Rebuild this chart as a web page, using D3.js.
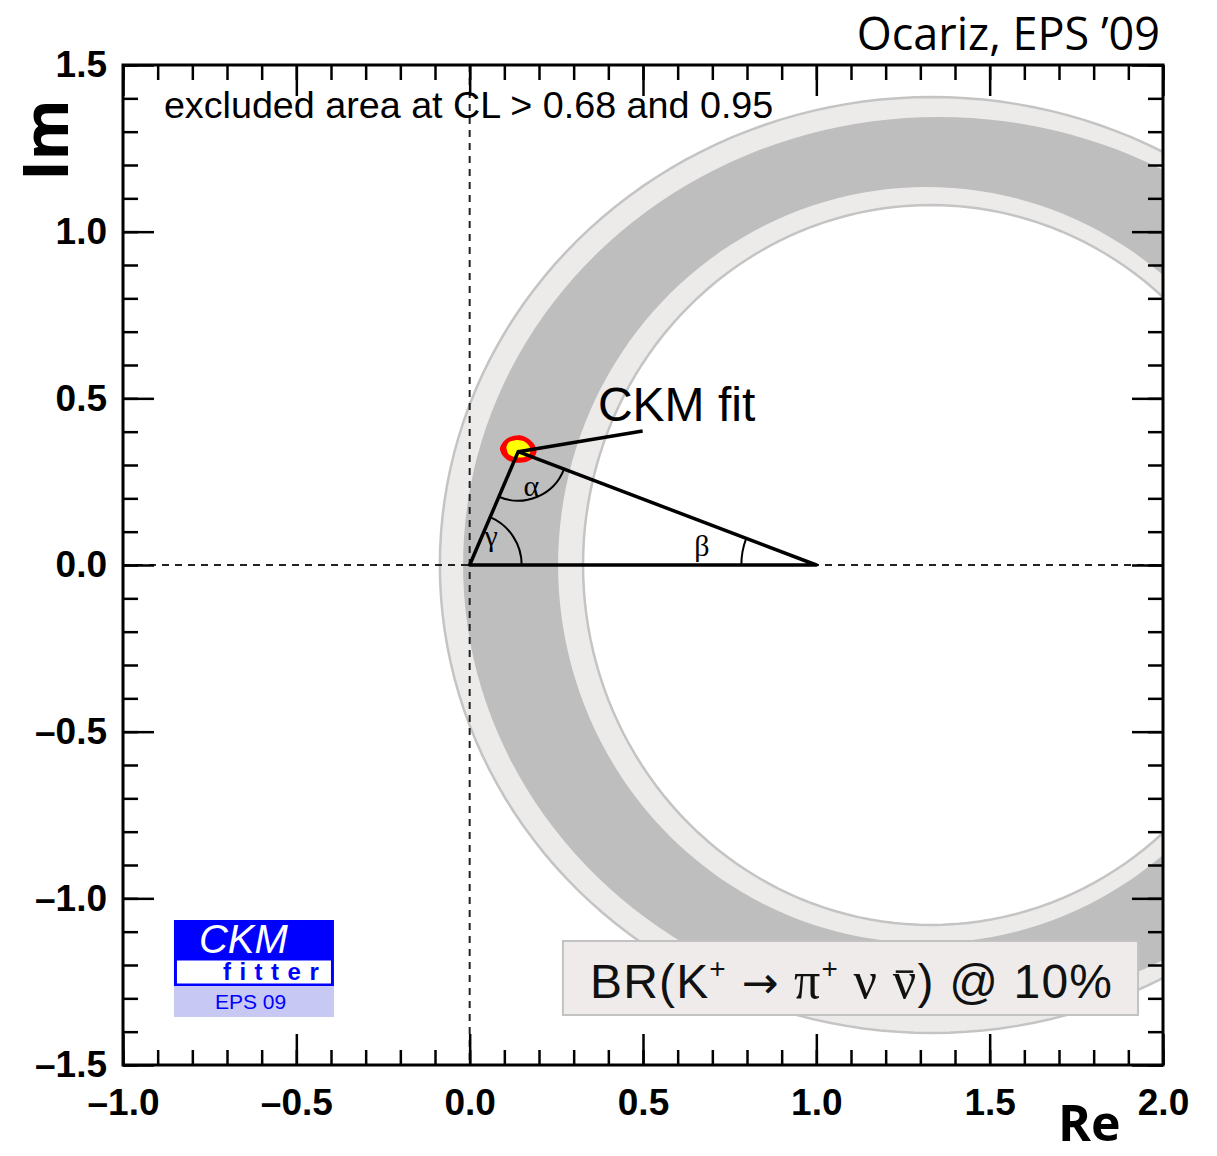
<!DOCTYPE html>
<html>
<head>
<meta charset="utf-8">
<script src="https://cdn.jsdelivr.net/npm/d3@7"></script>
<style>
  body { margin: 0; background: #fff; }
  svg { display: block; }
</style>
</head>
<body>
<svg id="chart" width="1217" height="1156"></svg>
<script>
// axis ticks and labels
const xMajor = [-1.0, -0.5, 0.0, 0.5, 1.0, 1.5, 2.0];
const xLabels = ["\u20131.0", "\u20130.5", "0.0", "0.5", "1.0", "1.5", "2.0"];
const yMajor = [-1.5, -1.0, -0.5, 0.0, 0.5, 1.0, 1.5];
const yLabels = ["\u20131.5", "\u20131.0", "\u20130.5", "0.0", "0.5", "1.0", "1.5"];
const xMinor = d3.range(-10, 21).map(i => i / 10);
const yMinor = d3.range(-15, 16).map(i => i / 10);

// K+ -> pi+ nu nubar constraint: elliptic bands (CL 0.95 and 0.68)
const bandNames = ["CL 0.95", "CL 0.68"];
const bandColors = ["#edeaea", "#bebebe"];
const outerCx = [1.333, 1.353];
const outerRx = [1.419, 1.372];
const outerRy = [1.404, 1.344];
const innerCx = [1.330, 1.318];
const innerRx = [1.003, 1.063];
const innerRy = [1.080, 1.134];

// unitarity triangle apex (rho-bar, eta-bar)
const apex = [0.14, 0.34];
const triangle = [[0, 0], [1, 0], apex];

// CKM fit contours
const fitRed = [[0.087, 0.350], [0.097, 0.370], [0.116, 0.384], [0.145, 0.389], [0.170, 0.379],
  [0.187, 0.361], [0.193, 0.340], [0.184, 0.322], [0.164, 0.310], [0.136, 0.307],
  [0.110, 0.314], [0.094, 0.330]];
const fitYellow = [[0.106, 0.353], [0.114, 0.369], [0.137, 0.375], [0.159, 0.370], [0.173, 0.355],
  [0.174, 0.336], [0.158, 0.324], [0.132, 0.323], [0.112, 0.333]];

const margin = { top: 65, right: 54, bottom: 91, left: 123 },
  W = 1217, H = 1156;

const x = d3.scaleLinear().domain([-1, 2]).range([margin.left, W - margin.right]);
const y = d3.scaleLinear().domain([-1.5, 1.5]).range([H - margin.bottom, margin.top]);

const svg = d3.select("#chart");

svg.append("clipPath").attr("id", "plotclip")
  .append("rect")
  .attr("x", x(-1)).attr("y", y(1.5))
  .attr("width", x(2) - x(-1)).attr("height", y(-1.5) - y(1.5));

function ellipse(cx, rx, ry) {
  const pts = d3.range(0, 360, 2).map(a => {
    const t = a * Math.PI / 180;
    return [cx + rx * Math.cos(t), ry * Math.sin(t)];
  });
  return d3.line().x(d => x(d[0])).y(d => y(d[1])).curve(d3.curveLinearClosed)(pts);
}

const plot = svg.append("g").attr("clip-path", "url(#plotclip)");

bandNames.forEach((name, i) => {
  plot.append("path")
    .attr("d", ellipse(outerCx[i], outerRx[i], outerRy[i]) + ellipse(innerCx[i], innerRx[i], innerRy[i]))
    .attr("fill-rule", "evenodd")
    .attr("fill", bandColors[i]);
});
// outlines of the outer band
plot.append("path").attr("d", ellipse(outerCx[0], outerRx[0], outerRy[0]))
  .attr("fill", "none").attr("stroke", "#c4c4c4").attr("stroke-width", 2.5);
plot.append("path").attr("d", ellipse(innerCx[0], innerRx[0], innerRy[0]))
  .attr("fill", "none").attr("stroke", "#c4c4c4").attr("stroke-width", 2.5);

// dashed axes
plot.append("line")
  .attr("x1", x(0)).attr("x2", x(0)).attr("y1", y(1.5)).attr("y2", y(-1.5))
  .attr("stroke", "#222").attr("stroke-width", 2).attr("stroke-dasharray", "7,6");
plot.append("line")
  .attr("x1", x(-1)).attr("x2", x(2)).attr("y1", y(0)).attr("y2", y(0))
  .attr("stroke", "#222").attr("stroke-width", 2).attr("stroke-dasharray", "7,6");

// CKM fit blob
const blob = d3.line().x(d => x(d[0])).y(d => y(d[1])).curve(d3.curveCardinalClosed.tension(0.3));
plot.append("path").attr("d", blob(fitRed)).attr("fill", "#ff0000");
plot.append("path").attr("d", blob(fitYellow)).attr("fill", "#ffff00");

// triangle
plot.append("path")
  .attr("d", d3.line().x(d => x(d[0])).y(d => y(d[1])).curve(d3.curveLinearClosed)(triangle))
  .attr("fill", "none").attr("stroke", "#000").attr("stroke-width", 3.5)
  .attr("stroke-linejoin", "round");

// angle arcs, drawn in pixel space
function angleArc(v, p1, p2, r) {
  const a1 = Math.atan2(y(p1[1]) - y(v[1]), x(p1[0]) - x(v[0]));
  const a2 = Math.atan2(y(p2[1]) - y(v[1]), x(p2[0]) - x(v[0]));
  let d = a2 - a1;
  while (d > Math.PI) d -= 2 * Math.PI;
  while (d < -Math.PI) d += 2 * Math.PI;
  const cx = x(v[0]), cy = y(v[1]);
  const p = d3.path();
  p.moveTo(cx + r * Math.cos(a1), cy + r * Math.sin(a1));
  p.arc(cx, cy, r, a1, a1 + d, d < 0);
  return p.toString();
}
const arcs = [
  { v: apex, a: [0, 0], b: [1, 0], r: 49, label: "\u03b1", at: [0.178, 0.24] },
  { v: [0, 0], a: [1, 0], b: apex, r: 52, label: "\u03b3", at: [0.062, 0.09] },
  { v: [1, 0], a: [0, 0], b: apex, r: 75, label: "\u03b2", at: [0.67, 0.06] }
];
arcs.forEach(d => {
  plot.append("path").attr("d", angleArc(d.v, d.a, d.b, d.r))
    .attr("fill", "none").attr("stroke", "#000").attr("stroke-width", 2);
  plot.append("text")
    .attr("x", x(d.at[0])).attr("y", y(d.at[1]))
    .attr("text-anchor", "middle").attr("dominant-baseline", "central")
    .attr("font-family", "Liberation Serif, serif").attr("font-size", 30)
    .text(d.label);
});

// pointer to CKM fit
plot.append("line")
  .attr("x1", x(apex[0])).attr("y1", y(apex[1]))
  .attr("x2", x(0.499)).attr("y2", y(0.402))
  .attr("stroke", "#000").attr("stroke-width", 3.5);

svg.append("text")
  .attr("x", x(0.37)).attr("y", y(0.432))
  .attr("font-family", "Liberation Sans, Arial, sans-serif").attr("font-size", 48)
  .text("CKM fit");

svg.append("text")
  .attr("x", x(-0.882)).attr("y", y(1.341))
  .attr("font-family", "Liberation Sans, Arial, sans-serif").attr("font-size", 37.7)
  .text("excluded area at CL > 0.68 and 0.95");

// legend box
const box = svg.append("g");
box.append("rect")
  .attr("x", x(0.269)).attr("y", y(-1.128))
  .attr("width", x(1.928) - x(0.269)).attr("height", y(-1.35) - y(-1.128))
  .attr("fill", "#eeebea").attr("stroke", "#c2c2c2").attr("stroke-width", 2);
const br = box.append("text")
  .attr("x", x(0.347)).attr("y", y(-1.298))
  .attr("font-family", "Liberation Sans, Arial, sans-serif").attr("font-size", 48)
  .attr("fill", "#111")
  .attr("textLength", x(1.853) - x(0.347)).attr("lengthAdjust", "spacing");
const serif = "Liberation Serif, DejaVu Serif, serif";
br.append("tspan").text("BR(K");
br.append("tspan").attr("dy", -20).attr("font-size", 28).text("+");
br.append("tspan").attr("dy", 20).text(" ");
br.append("tspan").attr("font-family", "DejaVu Sans, sans-serif").attr("font-size", 44).text("\u2192");
br.append("tspan").text(" ");
br.append("tspan").attr("font-family", serif).attr("font-size", 52).text("\u03c0");
br.append("tspan").attr("dy", -20).attr("font-size", 28).text("+");
br.append("tspan").attr("dy", 20).text(" ");
br.append("tspan").attr("font-family", serif).attr("font-size", 52).text("\u03bd");
br.append("tspan").text(" ");
const nubar = br.append("tspan").attr("font-family", serif).attr("font-size", 52).text("\u03bd");
br.append("tspan").text(") @ 10%");
const nb = nubar.node().getBBox();
box.append("line")
  .attr("x1", nb.x + 3).attr("x2", nb.x + nb.width - 3)
  .attr("y1", y(-1.298) - 26).attr("y2", y(-1.298) - 26)
  .attr("stroke", "#111").attr("stroke-width", 2.5);

// CKMfitter logo
const lx = x(-0.853), ly = y(-1.065), lw = 160;
const logo = svg.append("g").attr("transform", `translate(${lx},${ly})`);
logo.append("rect").attr("width", lw).attr("height", 39).attr("fill", "#0000ff");
logo.append("rect").attr("x", 1.5).attr("y", 39).attr("width", lw - 3).attr("height", 26)
  .attr("fill", "#fff").attr("stroke", "#0000ff").attr("stroke-width", 3);
logo.append("rect").attr("y", 66).attr("width", lw).attr("height", 31).attr("fill", "#c8c8f4");
logo.append("text").attr("x", 25).attr("y", 33)
  .attr("font-family", "Liberation Sans, Arial, sans-serif").attr("font-style", "italic")
  .attr("font-size", 40).attr("fill", "#fff").text("CKM");
logo.append("text").attr("x", 49).attr("y", 60)
  .attr("font-family", "Liberation Sans, Arial, sans-serif").attr("font-weight", "bold")
  .attr("font-size", 24).attr("letter-spacing", 8.5).attr("fill", "#0000ff").text("fitter");
logo.append("text").attr("x", 41).attr("y", 89)
  .attr("font-family", "Liberation Sans, Arial, sans-serif")
  .attr("font-size", 21).attr("fill", "#0000ff").text("EPS 09");

// axes with inward ticks
const labelFont = "Liberation Sans, Arial, Helvetica, sans-serif";
function styleAxis(g) {
  g.select(".domain").remove();
  g.selectAll(".tick line").attr("stroke", "#000").attr("stroke-width", 2.5);
  g.selectAll(".tick text")
    .attr("font-family", labelFont).attr("font-weight", "bold")
    .attr("font-size", 37).attr("fill", "#000");
}
const yBottom = y(-1.5), yTop = y(1.5), xLeft = x(-1), xRight = x(2);

svg.append("g").attr("transform", `translate(0,${yBottom})`)
  .call(d3.axisBottom(x).tickValues(xMinor).tickSize(-15).tickFormat("")).call(styleAxis);
svg.append("g").attr("transform", `translate(0,${yBottom})`)
  .call(d3.axisBottom(x).tickValues(xMajor).tickSize(-31).tickPadding(24)
    .tickFormat((d, i) => xLabels[i])).call(styleAxis);
svg.append("g").attr("transform", `translate(0,${yTop})`)
  .call(d3.axisTop(x).tickValues(xMinor).tickSize(-15).tickFormat("")).call(styleAxis);
svg.append("g").attr("transform", `translate(0,${yTop})`)
  .call(d3.axisTop(x).tickValues(xMajor).tickSize(-31).tickFormat("")).call(styleAxis);

svg.append("g").attr("transform", `translate(${xLeft},0)`)
  .call(d3.axisLeft(y).tickValues(yMinor).tickSize(-15).tickFormat("")).call(styleAxis);
svg.append("g").attr("transform", `translate(${xLeft},0)`)
  .call(d3.axisLeft(y).tickValues(yMajor).tickSize(-31).tickPadding(16)
    .tickFormat((d, i) => yLabels[i])).call(styleAxis);
svg.append("g").attr("transform", `translate(${xRight},0)`)
  .call(d3.axisRight(y).tickValues(yMinor).tickSize(-15).tickFormat("")).call(styleAxis);
svg.append("g").attr("transform", `translate(${xRight},0)`)
  .call(d3.axisRight(y).tickValues(yMajor).tickSize(-31).tickFormat("")).call(styleAxis);

svg.append("rect")
  .attr("x", xLeft).attr("y", yTop).attr("width", xRight - xLeft).attr("height", yBottom - yTop)
  .attr("fill", "none").attr("stroke", "#000").attr("stroke-width", 3);

// axis titles and annotation
svg.append("text")
  .attr("transform", "translate(68,140) rotate(-90)")
  .attr("text-anchor", "middle")
  .attr("font-family", "Open Sans, sans-serif").attr("font-weight", "bold").attr("font-size", 62)
  .text("Im");
svg.append("text")
  .attr("x", 1058).attr("y", 1141)
  .attr("font-family", "Open Sans, sans-serif").attr("font-weight", "bold").attr("font-size", 50)
  .text("Re");
svg.append("text")
  .attr("x", 1160).attr("y", 50).attr("text-anchor", "end")
  .attr("font-family", "Open Sans, sans-serif").attr("font-size", 45)
  .text("Ocariz, EPS \u201909");
</script>
</body>
</html>
